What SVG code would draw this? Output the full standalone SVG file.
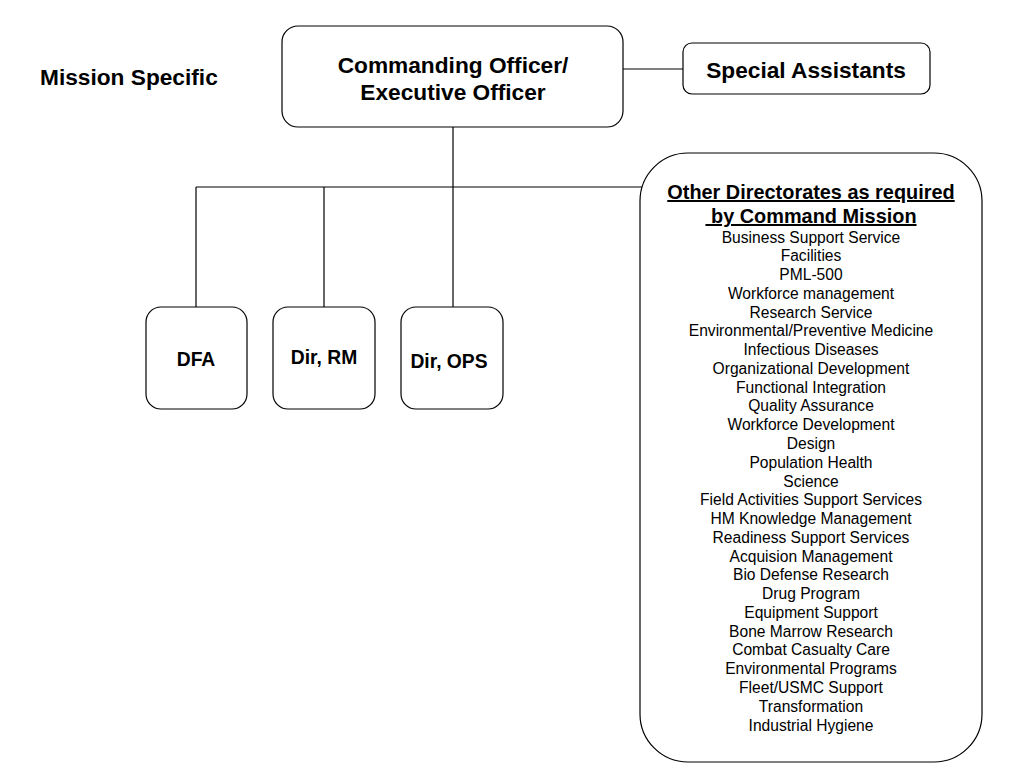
<svg xmlns="http://www.w3.org/2000/svg" width="1024" height="768" viewBox="0 0 1024 768">
<style>
.box{fill:#fff;stroke:#000;stroke-width:1.2}
.ln{stroke:#000;stroke-width:1.2;fill:none}
.b{font-family:"Liberation Sans",Arial,sans-serif;font-weight:bold;fill:#000;text-anchor:middle}
.t{font-family:"Liberation Sans",Arial,sans-serif;font-size:15.6px;fill:#000;text-anchor:middle}
</style>
<rect width="1024" height="768" fill="#fff"/>
<g id="connectors">
<line class="ln" x1="623" y1="69" x2="683" y2="69"/>
<line class="ln" x1="453" y1="127" x2="453" y2="307"/>
<line class="ln" x1="196" y1="187" x2="645" y2="187"/>
<line class="ln" x1="196" y1="187" x2="196" y2="307"/>
<line class="ln" x1="324" y1="187" x2="324" y2="307"/>
</g>
<g id="mission-specific">
<text class="b" x="40" y="85" font-size="22.7" text-anchor="start" style="text-anchor:start">Mission Specific</text>
</g>
<g id="co">
<rect class="box" x="282" y="26" width="341" height="101" rx="16"/>
<text class="b" x="453" y="73" font-size="22.7">Commanding Officer/</text>
<text class="b" x="453" y="100" font-size="22.7">Executive Officer</text>
</g>
<g id="special">
<rect class="box" x="683" y="43" width="247" height="51" rx="9"/>
<text class="b" x="806" y="78" font-size="22.7">Special Assistants</text>
</g>
<g id="dfa">
<rect class="box" x="146" y="307" width="101" height="102" rx="15"/>
<text class="b" x="196" y="366" font-size="19.3">DFA</text>
</g>
<g id="dirrm">
<rect class="box" x="273" y="307" width="102" height="102" rx="15"/>
<text class="b" x="324" y="364" font-size="19.3">Dir, RM</text>
</g>
<g id="dirops">
<rect class="box" x="401" y="307" width="102" height="102" rx="15"/>
<text class="b" x="449" y="368" font-size="19.3">Dir, OPS</text>
</g>
<g id="other">
<rect class="box" x="640" y="153" width="342" height="609" rx="48"/>
<text class="b" x="811" y="199" font-size="19.9" text-decoration="underline">Other Directorates as required</text>
<text class="b" x="811" y="223" font-size="19.9" text-decoration="underline" xml:space="preserve"> by Command Mission</text>
<text class="t" x="811" y="242.5">Business Support Service</text>
<text class="t" x="811" y="261.3">Facilities</text>
<text class="t" x="811" y="280">PML-500</text>
<text class="t" x="811" y="298.8">Workforce management</text>
<text class="t" x="811" y="317.6">Research Service</text>
<text class="t" x="811" y="336.3">Environmental/Preventive Medicine</text>
<text class="t" x="811" y="355.1">Infectious Diseases</text>
<text class="t" x="811" y="373.9">Organizational Development</text>
<text class="t" x="811" y="392.7">Functional Integration</text>
<text class="t" x="811" y="411.4">Quality Assurance</text>
<text class="t" x="811" y="430.2">Workforce Development</text>
<text class="t" x="811" y="449">Design</text>
<text class="t" x="811" y="467.7">Population Health</text>
<text class="t" x="811" y="486.5">Science</text>
<text class="t" x="811" y="505.3">Field Activities Support Services</text>
<text class="t" x="811" y="524">HM Knowledge Management</text>
<text class="t" x="811" y="542.8">Readiness Support Services</text>
<text class="t" x="811" y="561.6">Acquision Management</text>
<text class="t" x="811" y="580.3">Bio Defense Research</text>
<text class="t" x="811" y="599.1">Drug Program</text>
<text class="t" x="811" y="617.9">Equipment Support</text>
<text class="t" x="811" y="636.7">Bone Marrow Research</text>
<text class="t" x="811" y="655.4">Combat Casualty Care</text>
<text class="t" x="811" y="674.2">Environmental Programs</text>
<text class="t" x="811" y="693">Fleet/USMC Support</text>
<text class="t" x="811" y="711.7">Transformation</text>
<text class="t" x="811" y="730.5">Industrial Hygiene</text>
</g>
</svg>
